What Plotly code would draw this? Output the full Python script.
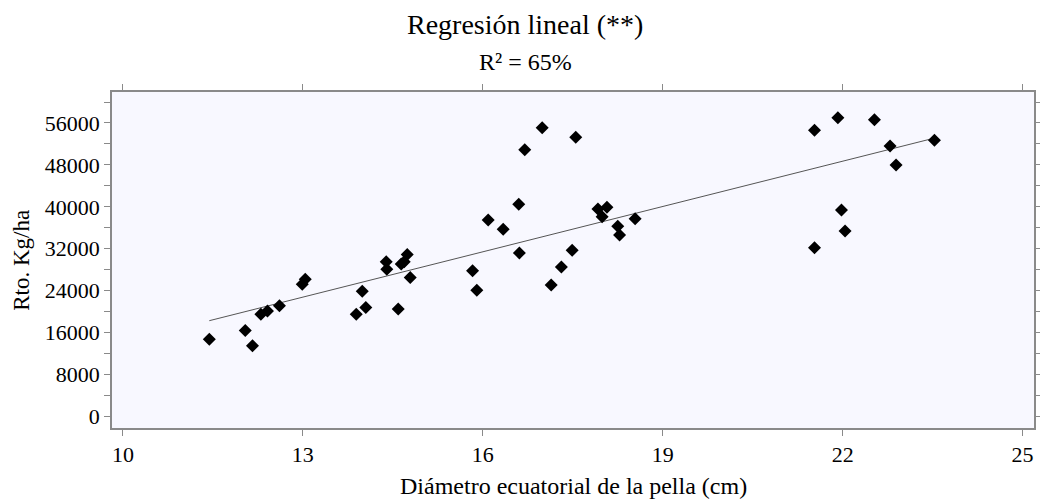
import numpy as np
import plotly.graph_objects as go

# Data
diametro = [11.44, 12.04, 12.16, 12.30, 12.41, 12.61, 12.99, 13.04, 13.89, 13.99,
            14.05, 14.39, 14.40, 14.59, 14.64, 14.69, 14.74, 14.79, 15.83, 15.90,
            16.09, 16.34, 16.60, 16.61, 16.70, 16.99, 17.14, 17.31, 17.49, 17.55,
            17.92, 17.99, 18.07, 18.25, 18.28, 18.54, 21.53, 21.53, 21.92, 21.98,
            22.04, 22.53, 22.79, 22.89, 23.53]
rendimiento = [14750, 16400, 13500, 19500, 20100, 21100, 25200, 26200, 19500, 23900,
               20800, 29500, 28100, 20500, 29100, 29500, 30900, 26500, 27800, 24100,
               37500, 35700, 40500, 31200, 50900, 55100, 25100, 28500, 31700, 53300,
               39600, 38100, 39900, 36300, 34600, 37700, 54600, 32200, 57000, 39400,
               35400, 56600, 51600, 48000, 52700]

x_ticks = [10, 13, 16, 19, 22, 25]
y_ticks = [0, 8000, 16000, 24000, 32000, 40000, 48000, 56000]

titulo = "Regresión lineal (**)"
subtitulo = "R² = 65%"
x_titulo = "Diámetro ecuatorial de la pella (cm)"
y_titulo = "Rto. Kg/ha"

# Least squares regression line
coef = np.polyfit(diametro, rendimiento, 1)
x_fit = np.array([min(diametro), max(diametro)])
y_fit = np.polyval(coef, x_fit)

FONT = "Liberation Serif"
GRAY = "#8a8a8a"

fig = go.Figure()
fig.add_trace(go.Scatter(x=x_fit, y=y_fit, mode="lines",
                         line=dict(color="#555555", width=1), hoverinfo="skip",
                         showlegend=False))
fig.add_trace(go.Scatter(x=diametro, y=rendimiento, mode="markers",
                         marker=dict(symbol="diamond", size=10, color="black"),
                         showlegend=False))

# page body has an 8px margin, so the figure is offset by 8px
fig.update_layout(
    width=1040, height=493,
    margin=dict(l=104, r=6, t=84, b=73),
    paper_bgcolor="white",
    plot_bgcolor="#F8F8FF",
    font=dict(family=FONT, color="black", size=22),
    showlegend=False,
)

fig.update_xaxes(
    range=[9.818, 25.19], tickvals=x_ticks, ticktext=[str(v) for v in x_ticks],
    showgrid=False, zeroline=False,
    showline=True, linecolor=GRAY, linewidth=1.5, mirror="ticks",
    ticks="outside", ticklen=6, tickcolor=GRAY, tickwidth=1,
    tickfont=dict(family=FONT, size=22, color="black"),
)
fig.update_yaxes(
    range=[-2210, 61912], tickvals=y_ticks, ticktext=[str(v) for v in y_ticks],
    showgrid=False, zeroline=False,
    showline=True, linecolor=GRAY, linewidth=1.5, mirror="ticks",
    ticks="outside", ticklen=6, tickcolor=GRAY, tickwidth=1,
    tickfont=dict(family=FONT, size=22, color="black"),
    minor=dict(dtick=4000, tick0=0, ticks="outside", ticklen=6, tickcolor=GRAY,
               tickwidth=1, showgrid=False),
)

fig.add_annotation(text=titulo, xref="paper", yref="paper", x=0.4484, y=1.201,
                   xanchor="center", yanchor="middle", showarrow=False,
                   font=dict(family=FONT, size=28, color="black"))
fig.add_annotation(text=subtitulo, xref="paper", yref="paper", x=0.4484, y=1.088,
                   xanchor="center", yanchor="middle", showarrow=False,
                   font=dict(family=FONT, size=24, color="black"))
fig.add_annotation(text=x_titulo, xref="paper", yref="paper", x=0.5, y=-0.174,
                   xanchor="center", yanchor="middle", showarrow=False,
                   font=dict(family=FONT, size=24, color="black"))
fig.add_annotation(text=y_titulo, xref="paper", yref="paper", x=-0.0989, y=0.5,
                   xanchor="center", yanchor="middle", textangle=-90, showarrow=False,
                   font=dict(family=FONT, size=23, color="black"))

fig.write_html("out.html")
